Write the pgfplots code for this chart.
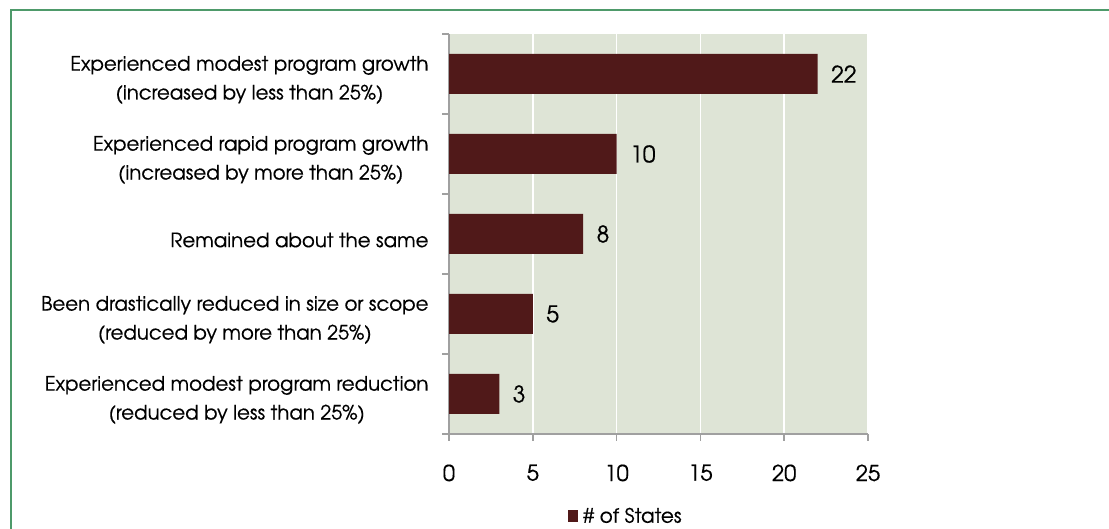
\documentclass[border=0pt]{standalone}
\usepackage{pgfplots}
\pgfplotsset{compat=1.18}
\usepackage{fontspec}
\setmainfont{TeX Gyre Adventor}[FakeBold=0.4]
\definecolor{bgc}{RGB}{222,228,214}
\definecolor{barc}{RGB}{80,25,25}
\definecolor{axc}{RGB}{160,160,160}
\definecolor{frc}{RGB}{78,154,106}
\begin{document}
\begin{tikzpicture}[x=1bp,y=1bp]
\useasboundingbox (0,0) rectangle (1109,529);
\draw[frc,line width=1.5bp] (11,-5) -- (11,519) -- (1115,519);
\begin{axis}[
  at={(449bp,95bp)}, anchor=south west,
  width=419bp, height=400bp, scale only axis,
  xmin=0, xmax=25, ymin=-0.5, ymax=4.5,
  y dir=reverse,
  axis lines*=left,
  axis line style={draw=axc, line width=1.5bp},
  axis background/.style={fill=bgc},
  xtick={0,5,10,15,20,25},
  xmajorgrids, grid style={white, line width=1.5bp},
  ytick={0,1,2,3,4},
  yticklabels={{Experienced modest program growth\\(increased by less than 25\%)},
               {Experienced rapid program growth\\(increased by more than 25\%)},
               {Remained about the same},
               {Been drastically reduced in size or scope\\(reduced by more than 25\%)},
               {Experienced modest program reduction\\(reduced by less than 25\%)}},
  yticklabel style={align=center, font=\fontsize{19.8}{29}\selectfont, xshift=-10bp, yshift=-6bp},
  minor ytick={-0.5,0.5,1.5,2.5,3.5,4.5},
  tick align=outside,
  major tick length=7bp, minor tick length=7bp,
  y tick style={draw=none},
  minor y tick style={draw=axc, line width=1.5bp},
  x tick style={draw=axc, line width=1.5bp},
  xticklabel style={font=\fontsize{22}{26}\selectfont, yshift=-20bp},
  /pgf/number format/assume math mode=true,
  xbar, bar width=40bp,
  nodes near coords,
  every node near coord/.append style={font=\fontsize{23}{27}\selectfont, black, anchor=west, xshift=10bp},
  legend style={at={(0.284,-0.205)}, anchor=west, draw=none, fill=none,
    font=\fontsize{20}{22}\selectfont, inner sep=0pt},
  legend image code/.code={\fill[barc] (0bp,-6bp) rectangle (10bp,6bp);},
  legend cell align=left,
]
\addplot[fill=barc, draw=none] coordinates {(22,0) (10,1) (8,2) (5,3) (3,4)};
\addlegendentry{\hspace{3bp}\# of States}
\end{axis}
\end{tikzpicture}
\end{document}
